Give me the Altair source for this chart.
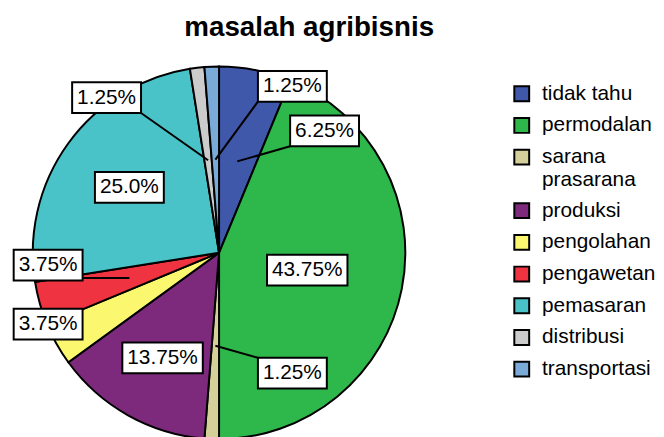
import altair as alt
import pandas as pd
import numpy as np

# ---------------- data ----------------
categories = ["tidak tahu", "permodalan", "sarana prasarana", "produksi", "pengolahan",
              "pengawetan", "pemasaran", "distribusi", "transportasi"]
percent = [6.25, 43.75, 1.25, 13.75, 3.75, 3.75, 25.0, 1.25, 1.25]
label_text = ["6.25%", "43.75%", "1.25%", "13.75%", "3.75%", "3.75%", "25.0%", "1.25%", "1.25%"]
colors = ["#3f58aa", "#2eb84b", "#d5cf99", "#7d2a7d", "#fbf870",
          "#ef3340", "#4ac3c8", "#cccccc", "#7aaad8"]
title_text = "masalah agribisnis"

# ---------------- layout ----------------
R = 188                      # pie radius in px
W, H = 608, 400              # plot area
CX, CY = 213, 207            # pie centre inside the plot area (px)
FONT = "Liberation Sans"
LABEL_FS = 21
# label box centre offsets from the pie centre (px, x right / y down)
label_dx = [106.5, 89, 74, -57, -172.5, -172.5, -90.5, -113.5, 74]
label_dy = [-123, 17.5, 121.5, 106, 72, 12.5, -66, -156.5, -168]
has_leader = [True, False, True, False, False, True, False, True, True]
ANCHOR_R = 0.5               # leader start, in radii, at the slice's mid angle

char_w = {"0": .556, "1": .556, "2": .556, "3": .556, "4": .556, "5": .556,
          "6": .556, "7": .556, "8": .556, "9": .556, ".": .278, "%": .889}

df = pd.DataFrame({"cat": categories, "value": percent, "label": label_text,
                   "order": list(range(len(categories)))})
total = df["value"].sum()
cum = df["value"].cumsum()
mid = np.deg2rad((cum - df["value"] / 2) / total * 360.0)
# all positional fields below are in units of the pie radius (y up)
df["ax"] = ANCHOR_R * np.sin(mid)
df["ay"] = ANCHOR_R * np.cos(mid)
df["lx"] = np.array(label_dx) / R
df["ly"] = -np.array(label_dy) / R
bw = np.array([(sum(char_w[c] for c in t) * LABEL_FS + 10) / R for t in label_text])
bh = 31 / R
df["bx1"] = df["lx"] - bw / 2
df["bx2"] = df["lx"] + bw / 2
df["by1"] = df["ly"] - bh / 2
df["by2"] = df["ly"] + bh / 2
df["ex"] = np.clip(df["ax"], df["bx1"], df["bx2"])
df["ey"] = np.clip(df["ay"], df["by1"], df["by2"])
df["leader"] = has_leader

xs = alt.Scale(domain=[-CX / R, (W - CX) / R], nice=False, zero=False)
ys = alt.Scale(domain=[-(H - CY) / R, CY / R], nice=False, zero=False)

base = alt.Chart(df)

pie = base.mark_arc(outerRadius=R, stroke="black", strokeWidth=2).encode(
    x=alt.XDatum(0, type="quantitative", scale=xs, axis=None),
    y=alt.YDatum(0, type="quantitative", scale=ys, axis=None),
    theta=alt.Theta("value:Q", stack=True),
    order=alt.Order("order:Q"),
    color=alt.Color(
        "cat:N",
        scale=alt.Scale(domain=categories, range=colors),
        sort=categories,
        legend=alt.Legend(
            title=None, orient="none", legendX=508, legendY=36, padding=0,
            symbolType="square", symbolSize=225, symbolStrokeColor="black",
            symbolStrokeWidth=2, symbolOpacity=1,
            labelFont=FONT, labelFontSize=21, labelColor="black", labelLimit=0,
            labelOffset=10, rowPadding=9,
            labelExpr="datum.label == 'sarana prasarana' ? ['sarana', 'prasarana'] : datum.label",
        ),
    ),
)

leaders = base.transform_filter("datum.leader").mark_rule(color="black", strokeWidth=2).encode(
    x=alt.X("ax:Q", scale=xs, axis=None),
    y=alt.Y("ay:Q", scale=ys, axis=None),
    x2="ex:Q",
    y2="ey:Q",
)

boxes = base.mark_rect(fill="white", stroke="black", strokeWidth=2).encode(
    x=alt.X("bx1:Q", scale=xs, axis=None),
    x2="bx2:Q",
    y=alt.Y("by1:Q", scale=ys, axis=None),
    y2="by2:Q",
)

texts = base.mark_text(font=FONT, fontSize=LABEL_FS, color="black",
                       align="center", baseline="middle").encode(
    x=alt.X("lx:Q", scale=xs, axis=None),
    y=alt.Y("ly:Q", scale=ys, axis=None),
    text="label:N",
)

chart = alt.layer(pie, leaders, boxes, texts).properties(
    width=W, height=H, padding={"top": 4, "left": 0, "right": 0, "bottom": 0},
    title=alt.TitleParams(title_text, font=FONT, fontSize=28, fontWeight="bold",
                          color="black", anchor="middle", offset=6),
).configure_view(stroke=None)

chart.save("out.html", embed_options={"renderer": "svg", "actions": False})
